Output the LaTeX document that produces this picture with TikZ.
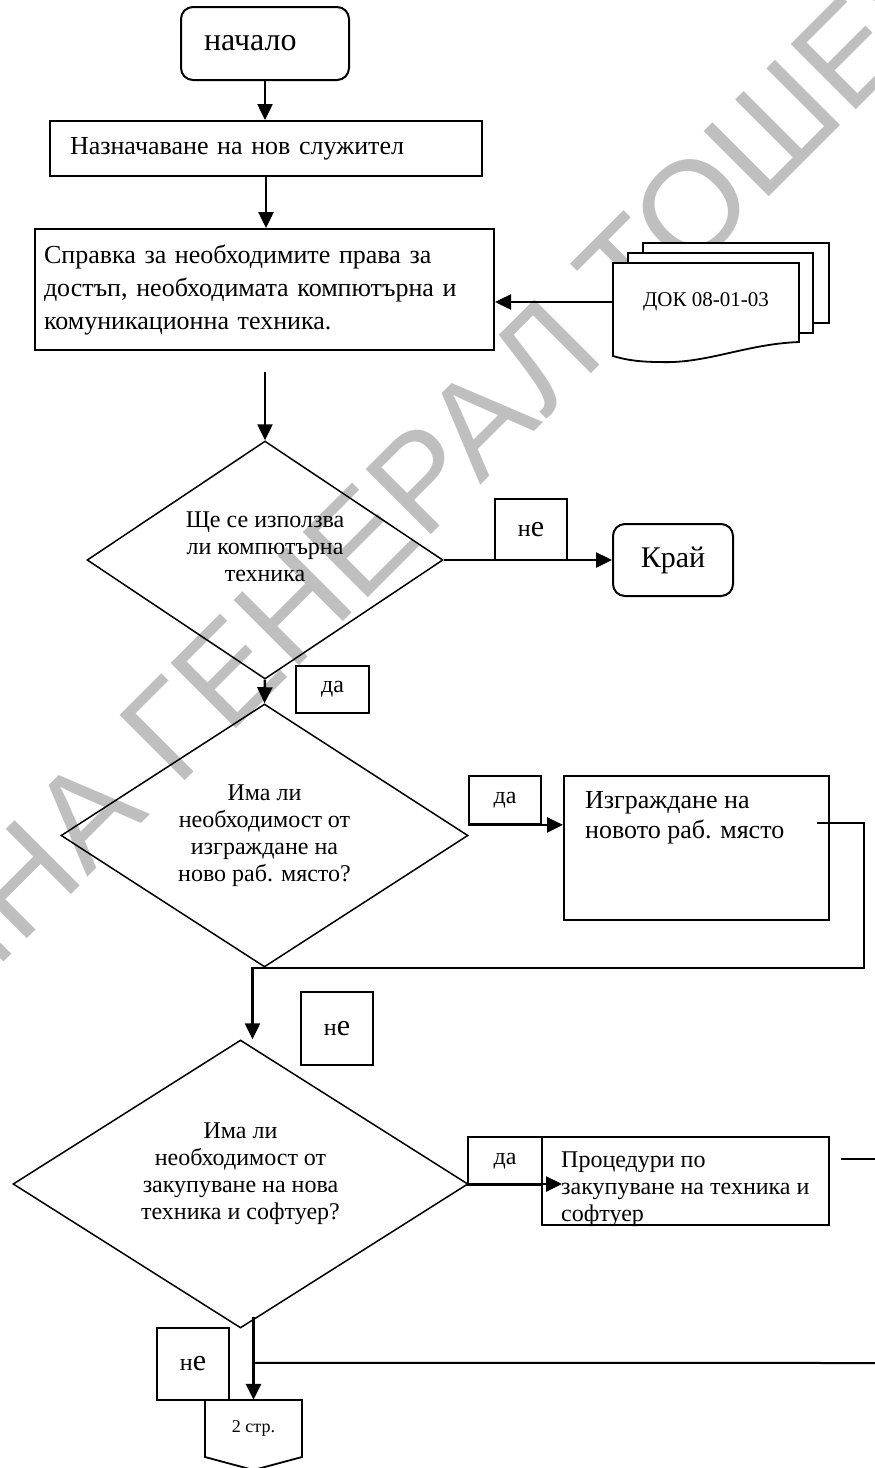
\documentclass[tikz,border=0pt]{standalone}
\usepackage{fontspec}
\setmainfont{Liberation Serif}
\newfontfamily\wmfont{Liberation Sans}
\usetikzlibrary{shapes.geometric,arrows.meta,positioning,calc}
\newcommand\fsz[2]{\fontsize{#1}{#2}\selectfont}
\newcommand\neword{{\fsz{24}{27}н}{\fsz{30}{27}е}}

\begin{document}
\begin{tikzpicture}[x=1pt,y=-1pt,
  box/.style={draw,line width=2pt,fill=white,rectangle,inner sep=0pt,font=\fsz{26}{33}},
  term/.style={box,rounded corners=12pt},
  dec/.style={draw,diamond,aspect=1.5,line width=1.5pt,inner sep=0pt,
              align=center,font=\fsz{24}{27}},
  ans/.style={draw,line width=1.8pt,fill=white,rectangle,inner sep=0pt,font=\fsz{24}{27}},
  docpage/.style={draw,line width=1.8pt,fill=white},
  txt/.style={anchor=north west,align=left,inner sep=0pt,font=\fsz{26}{30}},
  arr/.style={line width=2.5pt,-{Triangle[length=16pt,width=15pt]}},
  ln/.style={line width=2pt}
]
\useasboundingbox (0,0) rectangle (875,1468);
% watermark
\node[rotate=45,text=black!25,font=\wmfont\fsz{134}{134}] (wm) at (362,556) {ОБЩИНА ГЕНЕРАЛ ТОШЕВО};

% start and first steps
\node[term,minimum width=168pt,minimum height=73pt,text width=122pt,inner xsep=23pt,
      align=left,font=\fsz{32}{36}] (start) at (265,43.5) {начало};
\node[box,minimum width=432pt,minimum height=55pt,text width=392pt,inner xsep=20pt,
      align=left] (b1) at (266,148.5) {Назначаване на нов служител};
\node[box,minimum width=459pt,minimum height=121pt,text width=441pt,inner xsep=9pt,
      align=left] (b2) at (264.5,289.5) {Справка за необходимите права за\\достъп, необходимата компютърна и\\комуникационна техника.};

% document stack
\coordinate (docc) at (706,302);
\draw[docpage] ($(docc)+(-63,-59)$) rectangle ($(docc)+(123,21)$);
\draw[docpage] ($(docc)+(-78,-49)$) rectangle ($(docc)+(107,31)$);
\draw[docpage] ($(docc)+(-93,-39)$) -- ($(docc)+(93,-39)$) -- ($(docc)+(93,40)$)
  .. controls ($(docc)+(40,42)$) and ($(docc)+(0,62)$) .. ($(docc)+(-46,60)$)
  .. controls ($(docc)+(-66,60)$) and ($(docc)+(-80,58)$) .. ($(docc)+(-93,54)$) -- cycle;
\node[inner sep=0pt,minimum width=186pt,minimum height=78pt,font=\fsz{21}{24}] (doc) at (docc) {ДОК 08-01-03};

\draw[arr] (start.south) -- (start.south |- b1.north);
\draw[arr] (b1.south) -- (b1.south |- b2.north);
\draw[arr] (doc.west) -- (doc.west -| b2.east);

% first decision
\node[dec,minimum width=356pt,minimum height=238pt,text depth=26pt] (d1) at (265,560) {Ще се използва\\ли компютърна\\техника};
\node[ans,minimum width=72pt,minimum height=61pt] (ne1) at (531,529.5) {\neword};
\node[term,minimum width=120pt,minimum height=72pt,font=\fsz{30}{34}] (end) at (673,560) {Край};
\node[ans,minimum width=73pt,minimum height=47pt] (da1) at (332.5,689.5) {да};
\coordinate (gap) at (265,372);
\draw[arr] (gap) -- (d1.north);
\draw[arr] (d1.east) -- (end.west);

% second decision
\node[dec,minimum width=407pt,minimum height=263pt] (d2) at (264.5,835.5) {Има ли\\необходимост от\\изграждане на\\ново раб. място?};
\node[ans,minimum width=72pt,minimum height=48pt] (da2) at (505,800) {да};
\node[box,minimum width=265pt,minimum height=144pt] (izg) at (696.5,848) {};
\node[txt] (izgt) at ($(izg.north west)+(22,16)$) {Изграждане на\\новото раб. място};
\draw[arr] (d1.south) -- (d2.north);
\draw[arr] (da2.south west) -- (da2.south west -| izg.west);

% third decision
\node[dec,minimum width=455pt,minimum height=288pt,text depth=25pt] (d3) at (240.5,1184) {Има ли\\необходимост от\\закупуване на нова\\техника и софтуер?};
\node[ans,minimum width=72pt,minimum height=73pt] (ne2) at (337,1028.5) {\neword};
\node[ans,minimum width=74pt,minimum height=48pt] (da3) at (505,1161) {да};
\node[box,minimum width=287pt,minimum height=88pt] (proc) at (685.5,1181) {};
\node[txt,font=\fsz{24}{27}] (proct) at ($(proc.north west)+(20,16)$) {Процедури по\\закупуване на техника и\\софтуер};

% loop back from izg
\coordinate (izgout) at (817,823);
\coordinate (loop1) at (864,968);
\draw[arr] (izgout) -| (loop1) -| ($(d3.north)+(12,0)$);
\draw[arr] (d3.east) -- ($(d3.east -| proc.west)+(21,0)$);
\coordinate (procout) at (841,1159);
\coordinate (edge1) at (875,1159);
\draw[ln] (procout) -- (edge1);

% off-page connector
\node[ans,minimum width=72pt,minimum height=72pt] (ne3) at (193,1364) {\neword};
\coordinate (pgc) at (253.5,1428.5);
\draw[docpage] ($(pgc)+(-48.5,-28.5)$) -- ($(pgc)+(48.5,-28.5)$) -- ($(pgc)+(48.5,28.5)$)
  -- ($(pgc)+(0,41.5)$) -- ($(pgc)+(-48.5,28.5)$) -- cycle;
\node[inner sep=0pt,minimum width=97pt,minimum height=57pt,font=\fsz{18}{20}] (pg2) at (pgc) {2 стр.};
\draw[arr] ($(pg2.north)+(0,-83)$) -- (pg2.north);
\coordinate (edge2) at (875,1363);
\draw[ln] ($(pg2.north)+(0,-37)$) -- (edge2);
\end{tikzpicture}
\end{document}
